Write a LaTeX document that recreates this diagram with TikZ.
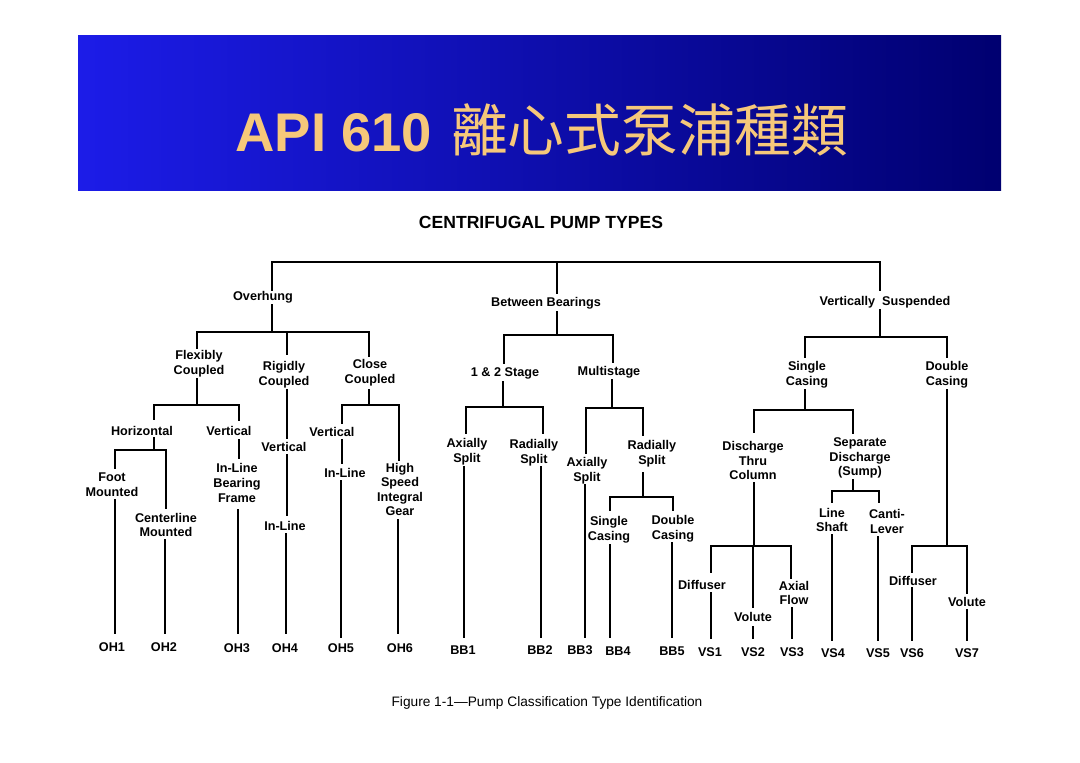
\documentclass[tikz,border=0pt]{standalone}
\usepackage{fontspec}
\setmainfont{Liberation Sans}
\newfontfamily\cjk{Noto Sans CJK TC}
\definecolor{bannerL}{RGB}{28,28,232}
\definecolor{bannerR}{RGB}{0,0,112}
\definecolor{gold}{RGB}{246,200,122}
\begin{document}
\begin{tikzpicture}[x=0.02cm,y=-0.02cm,
  lbl/.style={font=\bfseries\fontsize{7.2}{8.3}\selectfont, align=center, inner sep=0pt},
  leaf/.style={lbl},
  ln/.style={line width=1.1pt, line cap=rect}]
\useasboundingbox (0,0) rectangle (1080,763);
\fill[white] (0,0) rectangle (1080,763);
% banner
\shade[left color=bannerL, right color=bannerR] (78,36) rectangle (1001,191);
\node[anchor=base west, inner sep=0pt, text=gold, font=\bfseries\fontsize{31}{31}\selectfont] (banner) at (235,152) {API 610\hspace{0.38cm}{\cjk\mdseries\fontsize{32.3}{32.3}\selectfont 離心式泵浦種類}};
% title and caption
\node[lbl, font=\bfseries\fontsize{10}{12}\selectfont] (ttl) at (541,222) {CENTRIFUGAL PUMP TYPES};
\node[inner sep=0pt, font=\fontsize{7.8}{9}\selectfont] (cap) at (547,703) {Figure 1-1---Pump Classification Type Identification};

% level 1
\node[lbl] (ovh) at (263,297) {Overhung};
\node[lbl] (bb) at (546,303) {Between Bearings};
\node[lbl] (vs) at (885,302) {Vertically\ \ Suspended};
% overhung branch
\node[lbl] (flex) at (199,364) {Flexibly\\Coupled};
\node[lbl] (rig) at (284,375) {Rigidly\\Coupled};
\node[lbl] (clo) at (370,373) {Close\\Coupled};
\node[lbl] (hor) at (142,431) {Horizontal};
\node[lbl] (fvert) at (229,431) {Vertical};
\node[lbl] (foot) at (112,484.5) {Foot\\Mounted};
\node[lbl] (cent) at (166,525) {Centerline\\Mounted};
\node[lbl] (ilbf) at (237,483) {In-Line\\Bearing\\Frame};
\node[lbl] (rvert) at (284,447) {Vertical};
\node[lbl] (rinl) at (285,526) {In-Line};
\node[lbl] (cvert) at (332,432) {Vertical};
\node[lbl] (cinl) at (345,473) {In-Line};
\node[lbl] (hsig) at (400,489.5) {High\\Speed\\Integral\\Gear};
\node[leaf] (oh1) at (112,647) {OH1};
\node[leaf] (oh2) at (164,647) {OH2};
\node[leaf] (oh3) at (237,648) {OH3};
\node[leaf] (oh4) at (285,648) {OH4};
\node[leaf] (oh5) at (341,648) {OH5};
\node[leaf] (oh6) at (400,648) {OH6};
% between bearings branch
\node[lbl] (st12) at (505,373) {1 \& 2 Stage};
\node[lbl] (mult) at (609,372) {Multistage};
\node[lbl] (ax1) at (467,451.5) {Axially\\Split};
\node[lbl] (rad1) at (534,452.5) {Radially\\Split};
\node[lbl] (ax2) at (587,471) {Axially\\Split};
\node[lbl] (rad2) at (652,453.5) {Radially\\Split};
\node[lbl] (sc2) at (609,529.5) {Single\\Casing};
\node[lbl] (dc2) at (673,528.5) {Double\\Casing};
\node[leaf] (bb1) at (463,650) {BB1};
\node[leaf] (bb2) at (540,650) {BB2};
\node[leaf] (bb3) at (580,650) {BB3};
\node[leaf] (bb4) at (618,651) {BB4};
\node[leaf] (bb5) at (672,651) {BB5};
% vertically suspended branch
\node[lbl] (vsc) at (807,374.5) {Single\\Casing};
\node[lbl] (vdc) at (947,374.5) {Double\\Casing};
\node[lbl] (dtc) at (753,460.5) {Discharge\\Thru\\Column};
\node[lbl] (sds) at (860,458) {Separate\\Discharge\\(Sump)};
\node[lbl] (dif1) at (702,585) {Diffuser};
\node[lbl] (vol1) at (753,617) {Volute};
\node[lbl] (axf) at (794,593) {Axial\\Flow};
\node[lbl] (lsh) at (832,520) {Line\\Shaft};
\node[lbl] (cl) at (887,521.5) {Canti-\\Lever};
\node[lbl] (dif2) at (913,581) {Diffuser};
\node[lbl] (vol2) at (967,602) {Volute};
\node[leaf] (vs1) at (710,652) {VS1};
\node[leaf] (vs2) at (753,652) {VS2};
\node[leaf] (vs3) at (792,652) {VS3};
\node[leaf] (vs4) at (833,653) {VS4};
\node[leaf] (vs5) at (878,653) {VS5};
\node[leaf] (vs6) at (912,653) {VS6};
\node[leaf] (vs7) at (967,653) {VS7};

% ---------- connectors ----------
% root bar
\draw[ln] (272,290) -- (272,262) -- (880,262) -- (880,290);
\draw[ln] (557,262) -- (557,293);
% overhung
\draw[ln] (272,305) -- (272,332);
\draw[ln] (197,348) -- (197,332) -- (369,332) -- (369,356);
\draw[ln] (287,332) -- (287,354);
\draw[ln] (197,379) -- (197,405);
\draw[ln] (154,419) -- (154,405) -- (239,405) -- (239,420);
\draw[ln] (154,438) -- (154,450);
\draw[ln] (115,468) -- (115,450) -- (166,450) -- (166,508);
\draw[ln] (115,500) -- (115,633);
\draw[ln] (165,540) -- (165,633);
\draw[ln] (239,440) -- (239,458);
\draw[ln] (238,510) -- (238,633);
\draw[ln] (287,390) -- (287,438);
\draw[ln] (287,455) -- (287,515);
\draw[ln] (286,534) -- (286,633);
\draw[ln] (369,390) -- (369,405);
\draw[ln] (342,423) -- (342,405) -- (399,405) -- (399,460);
\draw[ln] (342,440) -- (342,463);
\draw[ln] (341,481) -- (341,637);
\draw[ln] (398,520) -- (398,633);
% between bearings
\draw[ln] (557,312) -- (557,335);
\draw[ln] (504,363) -- (504,335) -- (613,335) -- (613,362);
\draw[ln] (503,382) -- (503,407);
\draw[ln] (466,433) -- (466,407) -- (543,407) -- (543,433);
\draw[ln] (464,467) -- (464,637);
\draw[ln] (541,467) -- (541,637);
\draw[ln] (612,380) -- (612,408);
\draw[ln] (586,453) -- (586,408) -- (643,408) -- (643,435);
\draw[ln] (585,485) -- (585,637);
\draw[ln] (643,473) -- (643,497);
\draw[ln] (610,510) -- (610,497) -- (673,497) -- (673,510);
\draw[ln] (610,545) -- (610,637);
\draw[ln] (672,543) -- (672,637);
% vertically suspended
\draw[ln] (880,310) -- (880,337);
\draw[ln] (805,357) -- (805,337) -- (947,337) -- (947,357);
\draw[ln] (805,390) -- (805,410);
\draw[ln] (754,432) -- (754,410) -- (853,410) -- (853,433);
\draw[ln] (754,483) -- (754,546);
\draw[ln] (711,572) -- (711,546) -- (791,546) -- (791,578);
\draw[ln] (753,546) -- (753,607);
\draw[ln] (711,593) -- (711,638);
\draw[ln] (753,627) -- (753,638);
\draw[ln] (792,608) -- (792,638);
\draw[ln] (853,480) -- (853,491);
\draw[ln] (832,502) -- (832,491) -- (879,491) -- (879,502);
\draw[ln] (832,535) -- (832,640);
\draw[ln] (878,537) -- (878,640);
\draw[ln] (947,390) -- (947,546);
\draw[ln] (912,572) -- (912,546) -- (967,546) -- (967,593);
\draw[ln] (912,588) -- (912,640);
\draw[ln] (967,610) -- (967,640);
\end{tikzpicture}
\end{document}
